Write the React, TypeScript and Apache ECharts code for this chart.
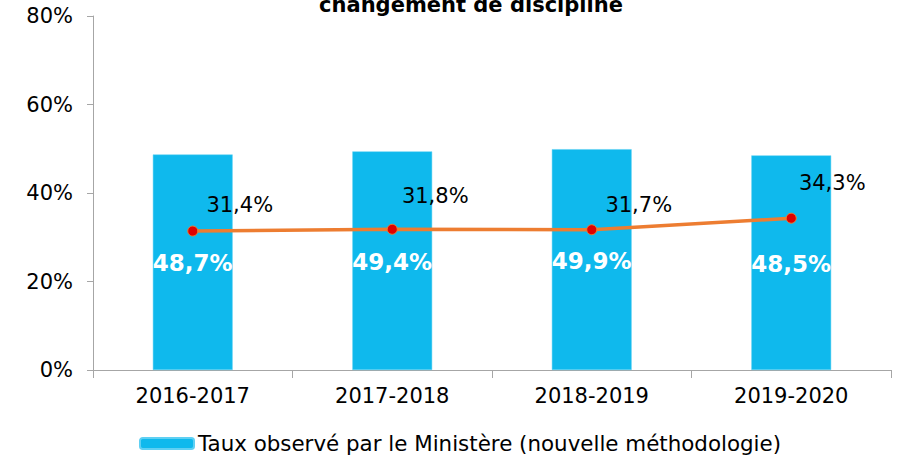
import React, { useEffect, useRef } from "react";
import * as echarts from "echarts";

const categories = ["2016-2017", "2017-2018", "2018-2019", "2019-2020"];
const barValues = [48.7, 49.4, 49.9, 48.5];
const lineValues = [31.4, 31.8, 31.7, 34.3];
const barName = "Taux observé par le Ministère (nouvelle méthodologie)";
const lineName = "Taux";
const titleText = "changement de discipline";
const yTicks = [0, 20, 40, 60, 80];

const lineLabelOffsets: [number, number][] = [
  [47, -26],
  [43, -33],
  [47, -25],
  [41, -35],
];

const fmt = (v: number) => v.toFixed(1).replace(".", ",") + "%";
const FONT = "DejaVu Sans";

export default function App() {
  const ref = useRef<HTMLDivElement>(null);
  useEffect(() => {
    if (!ref.current) return;
    const chart = echarts.init(ref.current, undefined, { renderer: "svg" });
    chart.setOption({
      animation: false,
      textStyle: { fontFamily: FONT },
      title: {
        text: titleText,
        left: 466,
        textAlign: "center",
        top: -11,
        textStyle: { fontFamily: FONT, fontWeight: "bold", fontSize: 21, color: "#000" },
      },
      grid: { left: 93, top: 16, width: 798, height: 354, containLabel: false },
      legend: {
        data: [barName],
        left: 139,
        top: 433,
        padding: 0,
        itemWidth: 54,
        itemHeight: 11,
        itemGap: 4,
        textStyle: { fontFamily: FONT, fontSize: 21.4, color: "#000", padding: [0, 0, 0, -1] },
      },
      xAxis: {
        type: "category",
        data: categories,
        axisLine: { lineStyle: { color: "#A6A6A6", width: 1 } },
        axisTick: { show: true, length: 8, lineStyle: { color: "#A6A6A6" } },
        axisLabel: { fontFamily: FONT, fontSize: 21, color: "#000", margin: 15 },
      },
      yAxis: {
        type: "value",
        min: yTicks[0],
        max: yTicks[yTicks.length - 1],
        interval: 20,
        splitLine: { show: false },
        axisLine: { show: true, lineStyle: { color: "#A6A6A6", width: 1 } },
        axisTick: { show: true, length: 6, lineStyle: { color: "#A6A6A6" } },
        axisLabel: {
          fontFamily: FONT,
          fontSize: 21,
          color: "#000",
          margin: 20,
          formatter: (v: number) => v + "%",
        },
      },
      series: [
        {
          name: barName,
          type: "bar",
          data: barValues,
          barWidth: "40%",
          itemStyle: { color: "#0FB9ED", borderColor: "#5FD0F3", borderWidth: 0.5 },
          label: {
            show: true,
            position: "inside",
            offset: [0, 1],
            formatter: (p: any) => fmt(p.value),
            fontFamily: FONT,
            fontWeight: "bold",
            fontSize: 23,
            color: "#fff",
          },
          z: 2,
        },
        {
          name: lineName,
          type: "line",
          data: lineValues.map((v, i) => ({
            value: v,
            label: { offset: lineLabelOffsets[i] },
          })),
          symbol: "circle",
          symbolSize: 10,
          lineStyle: { color: "#ED7D31", width: 3.5 },
          itemStyle: { color: "#E00000", borderColor: "#ED7D31", borderWidth: 1 },
          label: {
            show: true,
            position: "inside",
            formatter: (p: any) => fmt(p.value),
            fontFamily: FONT,
            fontSize: 21,
            color: "#000",
          },
          z: 3,
        },
      ],
    });
    return () => chart.dispose();
  }, []);
  return <div ref={ref} style={{ width: 902, height: 456, position: "absolute", left: 0, top: 0 }} />;
}
